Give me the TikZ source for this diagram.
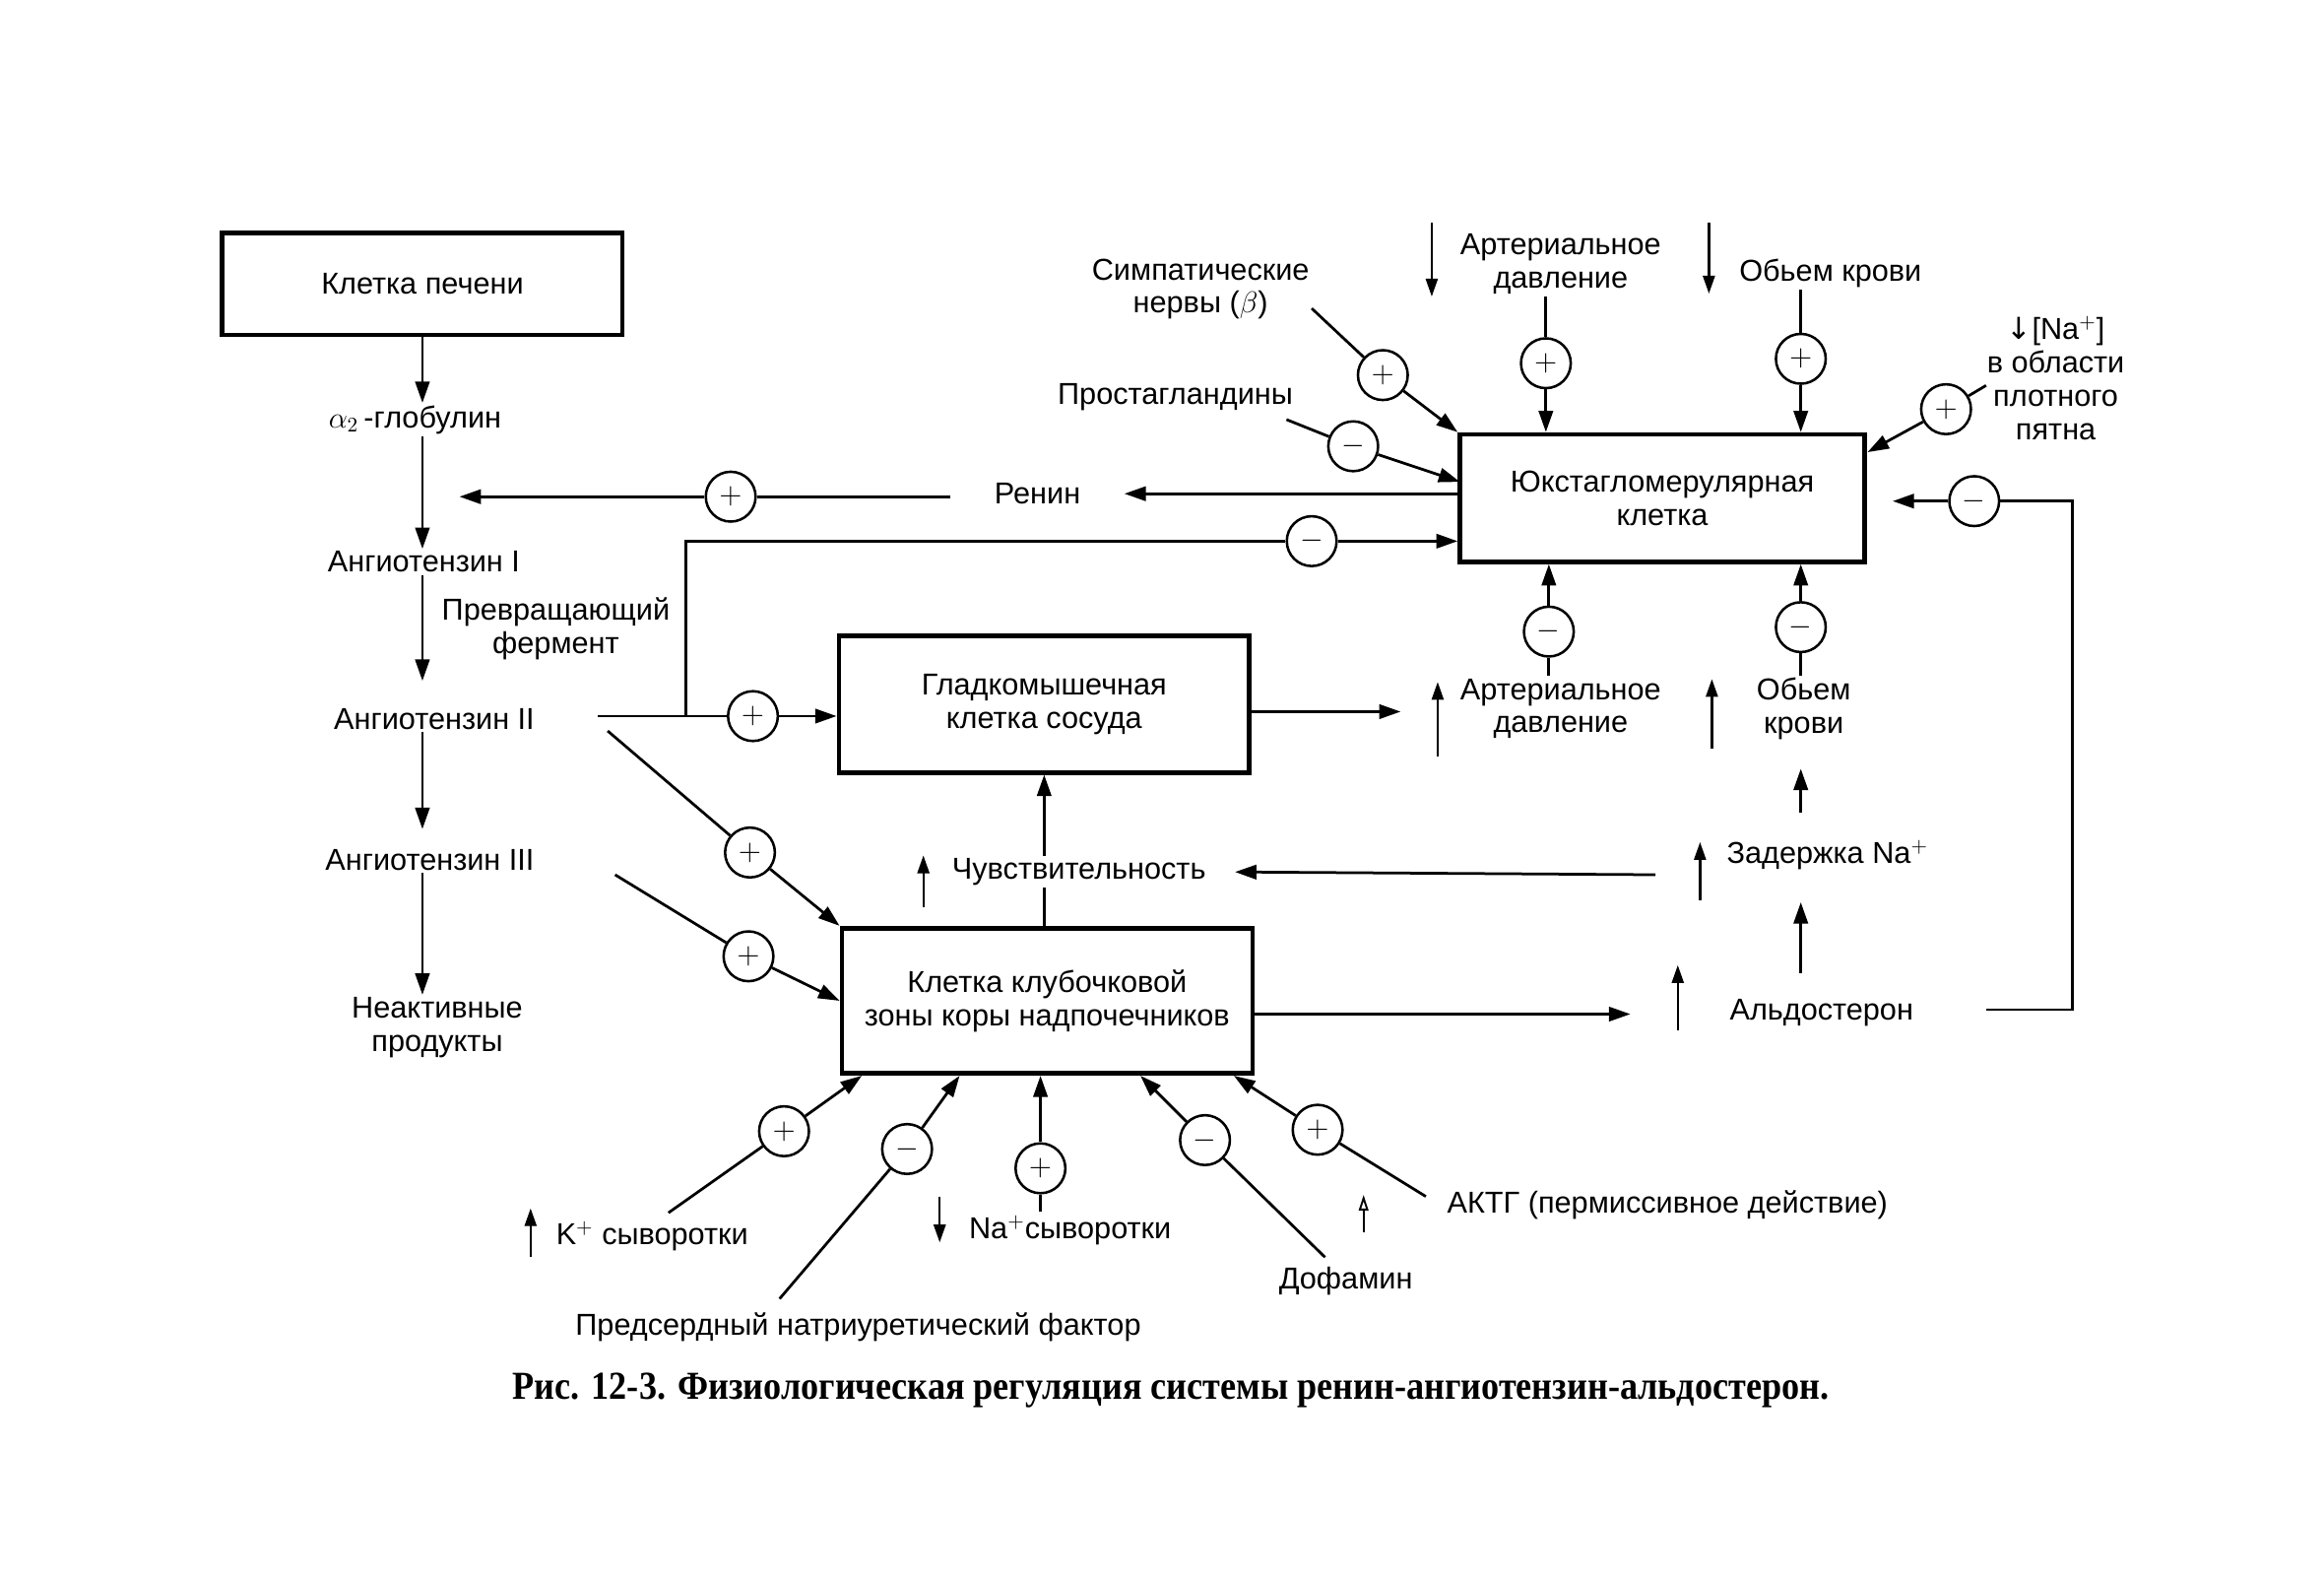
\documentclass[tikz,border=0pt]{standalone}
\usepackage{fontspec}
\setmainfont{Liberation Sans}
\newfontfamily\capfont{Liberation Serif}
\newfontfamily\symfont{DejaVu Sans}
\usetikzlibrary{arrows.meta}

\tikzset{
  cellbox/.style={draw, line width=2.2pt, align=center, inner sep=0pt},
  sgn/.style={draw, circle, line width=1.2pt, fill=white, minimum size=8.4mm, inner sep=0pt},
  lbl/.style={align=center, inner sep=1pt},
  conn/.style={line width=1.3pt},
  arr/.style={conn, -{Triangle[length=3.6mm,width=2.4mm]}},
  glyph/.style={line width=1.1pt, -{Triangle[length=3mm,width=2mm]}},
  glyphopen/.style={line width=0.9pt, -{Triangle[open,length=2.6mm,width=1.6mm]}},
}

\begin{document}
\begin{tikzpicture}[x=0.25mm, y=-0.25mm, font=\fontsize{14.5}{16}\selectfont]
  \useasboundingbox (0,0) rectangle (1568,1066);

  % Клетки
  \node[cellbox, minimum width=67.5mm, minimum height=17.25mm] (liver) at (285,191.5) {Клетка печени};
  \node[cellbox, minimum width=68.25mm, minimum height=21.5mm] (jg) at (1121.5,336) {Юкстагломерулярная\\клетка};
  \node[cellbox, minimum width=69.25mm, minimum height=23mm] (smooth) at (704.5,475) {Гладкомышечная\\клетка сосуда};
  \node[cellbox, minimum width=69.25mm, minimum height=24.5mm] (glom) at (706.5,675) {Клетка клубочковой\\зоны коры надпочечников};

  % Левая колонка
  \node[lbl] (glob) at (280,283) {$\alpha_2$\,-глобулин};
  \node[lbl] (ang1) at (286,379) {Ангиотензин I};
  \node[lbl] (ferm) at (375,424) {Превращающий\\фермент};
  \node[lbl] (ang2) at (293,485) {Ангиотензин II};
  \node[lbl] (ang3) at (290,580) {Ангиотензин III};
  \node[lbl] (inact) at (295,693) {Неактивные\\продукты};

  % Подписи
  \node[lbl] (renin) at (700,333) {Ренин};
  \node[lbl] (symp) at (810,195) {Симпатические\\нервы ($\beta$)};
  \node[lbl] (prost) at (793,268) {Простагландины};
  \node[lbl] (art1) at (1053,178) {Артериальное\\давление};
  \node[lbl] (vol1) at (1235,184) {Обьем крови};
  \node[lbl] (macula) at (1387,255) {{\symfont ↓}[Na$^+$]\\в области\\плотного\\пятна};
  \node[lbl] (art2) at (1053,478) {Артериальное\\давление};
  \node[lbl] (vol2) at (1217,478) {Обьем\\крови};
  \node[lbl] (zader) at (1233,577) {Задержка Na$^+$};
  \node[lbl] (chuv) at (728,588) {Чувствительность};
  \node[lbl] (aldo) at (1229,683) {Альдостерон};
  \node[lbl] (kplus) at (440,834) {K$^+$ сыворотки};
  \node[lbl] (naplus) at (722,830) {Na$^+$сыворотки};
  \node[lbl] (anf) at (579,895) {Предсердный натриуретический фактор};
  \node[lbl] (dofamin) at (908,864) {Дофамин};
  \node[lbl] (acth) at (1125,813) {АКТГ (пермиссивное действие)};

  % Знаки + и -
  \node[sgn] (p1) at (493,335) {$+$};
  \node[sgn] (m1) at (885,365) {$-$};
  \node[sgn] (p2) at (508,483) {$+$};
  \node[sgn] (p3) at (1043,245) {$+$};
  \node[sgn] (p4) at (1215,242) {$+$};
  \node[sgn] (p5) at (933,253) {$+$};
  \node[sgn] (m4) at (913,301) {$-$};
  \node[sgn] (p6) at (1313,276) {$+$};
  \node[sgn] (m5) at (1332,338) {$-$};
  \node[sgn] (m2) at (1045,426) {$-$};
  \node[sgn] (m3) at (1215,423) {$-$};
  \node[sgn] (p7) at (506,575) {$+$};
  \node[sgn] (p8) at (505,645) {$+$};
  \node[sgn] (pk) at (529,763) {$+$};
  \node[sgn] (manf) at (612,775) {$-$};
  \node[sgn] (pna) at (702,788) {$+$};
  \node[sgn] (mdof) at (813,769) {$-$};
  \node[sgn] (pacth) at (889,762) {$+$};

  % Свободные концы
  \coordinate (reninT) at (310,335);
  \coordinate (br) at (463,483);
  \coordinate (smT) at (945,480);
  \coordinate (sympA) at (885,208);
  \coordinate (prostA) at (868,283);
  \coordinate (prostT) at (985,325);
  \coordinate (macA) at (1340,260);
  \coordinate (macT) at (1260,305);
  \coordinate (fbA) at (1340,681);
  \coordinate (fbB) at (1398,338);
  \coordinate (fbT) at (1277,338);
  \coordinate (glT) at (1100,684);
  \coordinate (zaderL) at (1117,590);
  \coordinate (a2d) at (410,493);
  \coordinate (a3d) at (415,590);
  \coordinate (kA) at (451,818);
  \coordinate (anfA) at (526,876);
  \coordinate (naA) at (702,817);
  \coordinate (dofA) at (894,848);
  \coordinate (acthA) at (962,807);

  % Ангиотензиноген -> ангиотензины
  \draw[arr] (liver.south) -- (liver.south |- glob.north);
  \draw[arr] (glob.south -| liver.south) -- (liver.south |- ang1.north);
  \draw[arr, shorten >=4.25mm] (ang1.south -| liver.south) -- (liver.south |- ang2.north);
  \draw[arr, shorten >=3mm] (ang2.south -| liver.south) -- (liver.south |- ang3.north);
  \draw[arr] (ang3.south -| liver.south) -- (liver.south |- inact.north);

  % Ренин
  \draw[arr, shorten >=7mm] (renin -| jg.west) -- (renin.east);
  \draw[conn, shorten <=7mm] (renin.west |- p1) -- (p1);
  \draw[arr] (p1) -- (reninT);

  % Ангиотензин II
  \draw[conn, shorten <=10.25mm] (ang2.east |- p2) -- (p2);
  \draw[arr] (p2) -- (p2 -| smooth.west);
  \draw[conn] (br) |- (m1);
  \draw[arr] (m1) -- (m1 -| jg.west);
  \draw[conn] (a2d) -- (p7);
  \draw[arr] (p7) -- (glom.north west);
  \draw[conn] (a3d) -- (p8);
  \draw[arr] (p8) -- (glom.west);

  % Сосуды
  \draw[arr] (smooth.east |- smT) -- (smT);
  \draw[conn] (art2.north -| m2) -- (m2);
  \draw[arr] (m2) -- (m2 |- jg.south);
  \draw[conn] (vol2.north -| m3) -- (m3);
  \draw[arr] (m3) -- (m3 |- jg.south);

  % Входы юкстагломерулярной клетки
  \draw[conn] (art1.south -| p3) -- (p3);
  \draw[arr] (p3) -- (p3 |- jg.north);
  \draw[conn] (vol1.south -| p4) -- (p4);
  \draw[arr] (p4) -- (p4 |- jg.north);
  \draw[conn] (sympA) -- (p5);
  \draw[arr] (p5) -- (jg.north west);
  \draw[conn] (prostA) -- (m4);
  \draw[arr] (m4) -- (prostT);
  \draw[conn] (macA) -- (p6);
  \draw[arr] (p6) -- (macT);
  \draw[conn] (fbA) -| (fbB) -- (m5);
  \draw[arr] (m5) -- (fbT);

  % Альдостерон
  \draw[arr] (glom.east |- glT) -- (glT);
  \draw[arr, shorten <=4mm, shorten >=5mm] (aldo.north -| m3) -- (zader.south -| m3);
  \draw[arr, shorten <=4.25mm, shorten >=4.5mm] (zader.north -| m3) -- (vol2.south -| m3);
  \draw[arr, shorten >=4.5mm] (zaderL) -- (chuv.east);
  \draw[conn] (glom.north -| smooth.south) -- (chuv.south -| smooth.south);
  \draw[arr] (chuv.north -| smooth.south) -- (smooth.south);

  % Входы клубочковой зоны
  \draw[conn] (kA) -- (pk);
  \draw[arr] (pk) -- ([shift={(15,0)}]glom.south west);
  \draw[conn] (anfA) -- (manf);
  \draw[arr] (manf) -- ([shift={(81,0)}]glom.south west);
  \draw[conn] (naA) -- (pna);
  \draw[arr] (pna) -- (pna |- glom.south);
  \draw[conn] (dofA) -- (mdof);
  \draw[arr] (mdof) -- ([shift={(203,0)}]glom.south west);
  \draw[conn] (acthA) -- (pacth);
  \draw[arr] (pacth) -- ([shift={(266,0)}]glom.south west);

  % Стрелки-символы
  \draw[glyph] (966,150) -- (966,200);
  \draw[glyph] (1153,150) -- (1153,198);
  \draw[glyph] (970,510) -- (970,460);
  \draw[glyph] (1155,505) -- (1155,458);
  \draw[glyph] (1147,607) -- (1147,568);
  \draw[glyph] (623,612) -- (623,577);
  \draw[glyph] (1132,695) -- (1132,651);
  \draw[glyph] (358,848) -- (358,815);
  \draw[glyph] (634,807) -- (634,838);
  \draw[glyphopen] (920,831) -- (920,806);

  % Подпись
  \node (caption) at (790,938) {\capfont\bfseries\fontsize{19}{22}\selectfont\scalebox{0.9}[1]{Рис. 12-3. Физиологическая регуляция системы ренин-ангиотензин-альдостерон.}};
\end{tikzpicture}
\end{document}
